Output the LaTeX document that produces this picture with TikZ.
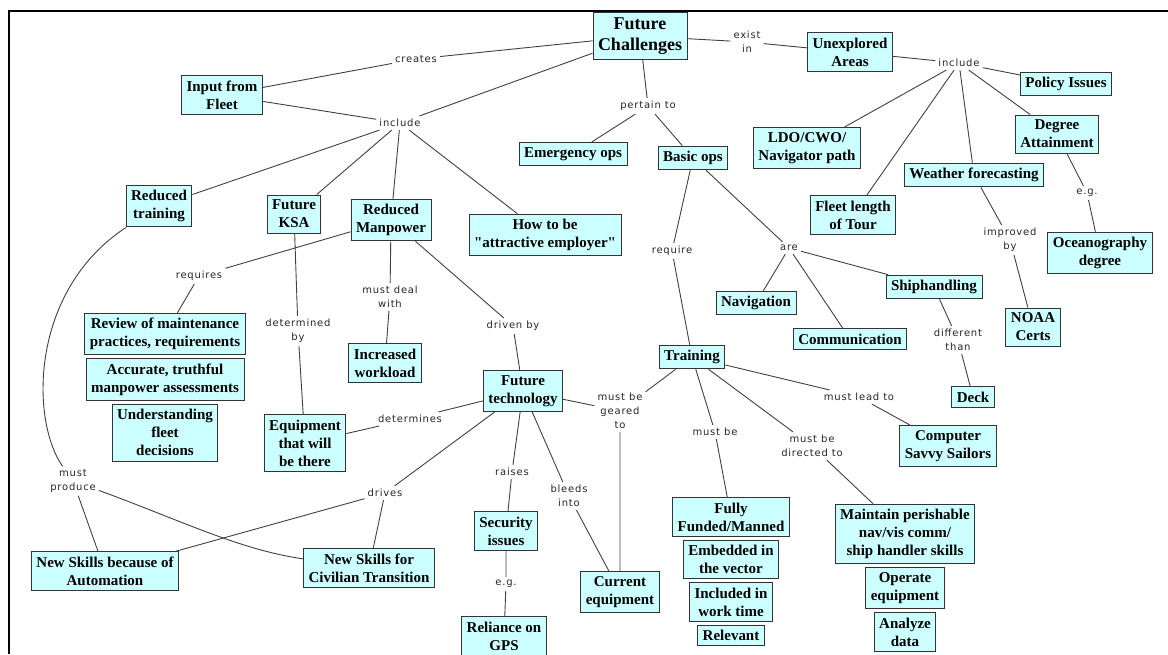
\documentclass[tikz,border=0pt]{standalone}
\usepackage{fontspec}
\setmainfont{Liberation Serif}
\newfontfamily\conceptfont{Liberation Serif}
\newfontfamily\linkfont{DejaVu Sans}[LetterSpace=8]
\usetikzlibrary{positioning}
\definecolor{cmapfill}{RGB}{204,255,255}

\begin{document}
\begin{tikzpicture}[x=1pt, y=-1pt, node distance=3pt,
    concept/.style={draw=black!80, line width=0.9pt, fill=cmapfill, align=center, inner xsep=5pt, inner ysep=5pt, font=\conceptfont\bfseries\fontsize{15}{18}\selectfont},
    link/.style={align=center, inner sep=3pt, text=black!85, font=\linkfont\fontsize{10}{14}\selectfont},
    tie/.style={draw=black!75, line width=0.9pt}]
  \clip (0,0) rectangle (1168,654);
  \draw[line width=2.5pt] (1168,11) -- (9,11) -- (9,654);

  \node[concept, font=\conceptfont\bfseries\fontsize{18}{21}\selectfont] (fc) at (640,36) {Future\\Challenges};
  \node[concept] (fleet)  at (222,95)  {Input from\\Fleet};
  \node[concept] (rtrain) at (159,206) {Reduced\\training};
  \node[concept] (ksa)    at (294,214) {Future\\KSA};
  \node[concept] (rman)   at (391,220) {Reduced\\Manpower};
  \node[concept] (attract) at (545,235) {How to be\\"attractive employer"};
  \node[concept] (emerg)  at (573,154) {Emergency ops};
  \node[concept] (basic)  at (693,158) {Basic ops};
  \node[concept] (unexpl) at (850,52)  {Unexplored\\Areas};
  \node[concept] (policy) at (1066,84) {Policy Issues};
  \node[concept] (ldo)    at (807,148) {LDO/CWO/\\Navigator path};
  \node[concept] (degree) at (1057,134) {Degree\\Attainment};
  \node[concept] (weather) at (974,175) {Weather forecasting};
  \node[concept] (tour)   at (853,215) {Fleet length\\of Tour};
  \node[concept] (ocean)  at (1100,253) {Oceanography\\degree};
  \node[concept] (noaa)   at (1033,327) {NOAA\\Certs};
  \node[concept] (ship)   at (934,287) {Shiphandling};
  \node[concept] (navi)   at (756,303) {Navigation};
  \node[concept] (comm)   at (850,339) {Communication};
  \node[concept] (deck)   at (973,397) {Deck};
  \node[concept] (savvy)  at (948,446) {Computer\\Savvy Sailors};
  \node[concept] (maint)  at (905,534) {Maintain perishable\\nav/vis comm/\\ship handler skills};
  \node[concept] (operate) [below=of maint] {Operate\\equipment};
  \node[concept] (analyze) [below=of operate] {Analyze\\data};
  \node[concept] (train)  at (692,357) {Training};
  \node[concept] (funded) at (731,517) {Fully\\Funded/Manned};
  \node[concept] (embed)  [below=of funded] {Embedded in\\the vector};
  \node[concept] (worktime) [below=of embed] {Included in\\work time};
  \node[concept] (relevant) [below=of worktime] {Relevant};
  \node[concept] (curreq) at (620,592) {Current\\equipment};
  \node[concept] (secur)  at (506,531) {Security\\issues};
  \node[concept] (gps)    at (504,636) {Reliance on\\GPS};
  \node[concept] (ftech)  at (523,391) {Future\\technology};
  \node[concept] (workload) at (385,363) {Increased\\workload};
  \node[concept] (review) at (165,334) {Review of maintenance\\practices, requirements};
  \node[concept] (accur)  [below=of review] {Accurate, truthful\\manpower assessments};
  \node[concept] (underst) [below=of accur] {Understanding\\fleet\\decisions};
  \node[concept] (equip)  at (305,443) {Equipment\\that will\\be there};
  \node[concept] (autom)  at (105,571) {New Skills because of\\Automation};
  \node[concept] (civil)  at (369,568) {New Skills for\\Civilian Transition};

  \node[link] (creates) at (416,59)  {creates};
  \node[link] (inclA)   at (400,123) {include};
  \node[link] (pert)    at (648,106) {pertain to};
  \node[link] (exist)   at (747,42)  {exist\\in};
  \node[link] (inclB)   at (959,63)  {include};
  \node[link] (eg1)     at (1087,193) {e.g.};
  \node[link] (impr)    at (1010,240) {improved\\by};
  \node[link] (req)     at (672,251) {require};
  \node[link] (are)     at (789,248) {are};
  \node[link] (diff)    at (958,340) {different\\than};
  \node[link] (lead)    at (859,397) {must lead to};
  \node[link] (direct)  at (812,446) {must be\\directed to};
  \node[link] (mustbe)  at (715,432) {must be};
  \node[link] (geared)  at (620,411) {must be\\geared\\to};
  \node[link] (bleeds)  at (569,496) {bleeds\\into};
  \node[link] (raises)  at (512,472) {raises};
  \node[link] (eg2)     at (506,584) {e.g.};
  \node[link] (driven)  at (513,326) {driven by};
  \node[link] (deal)    at (390,297) {must deal\\with};
  \node[link] (requires) at (199,276) {requires};
  \node[link] (detby)   at (298,331) {determined\\by};
  \node[link] (determ)  at (410,419) {determines};
  \node[link] (mprod)   at (73,481)  {must\\produce};
  \node[link] (drives)  at (385,493) {drives};

  \draw[tie] (fc) -- (creates) -- (fleet);
  \draw[tie] (fc) -- (inclA);
  \draw[tie] (fleet) -- (inclA);
  \draw[tie] (inclA) -- (rtrain);
  \draw[tie] (inclA) -- (ksa);
  \draw[tie] (inclA) -- (rman);
  \draw[tie] (inclA) -- (attract);
  \draw[tie] (fc) -- (pert) -- (emerg);
  \draw[tie] (pert) -- (basic);
  \draw[tie] (fc) -- (exist) -- (unexpl) -- (inclB) -- (policy);
  \draw[tie] (inclB) -- (ldo);
  \draw[tie] (inclB) -- (tour);
  \draw[tie] (inclB) -- (weather) -- (impr) -- (noaa);
  \draw[tie] (inclB) -- (degree) -- (eg1) -- (ocean);
  \draw[tie] (basic) -- (req) -- (train);
  \draw[tie] (basic) -- (are) -- (navi);
  \draw[tie] (are) -- (comm);
  \draw[tie] (are) -- (ship) -- (diff) -- (deck);
  \draw[tie] (train) -- (lead) -- (savvy);
  \draw[tie] (train) -- (direct) -- (maint);
  \draw[tie] (train) -- (mustbe) -- (funded);
  \draw[tie] (train) -- (geared) -- (curreq);
  \draw[tie] (ftech) -- (geared);
  \draw[tie] (rman) -- (requires) -- (review);
  \draw[tie] (rman) -- (deal) -- (workload);
  \draw[tie] (rman) -- (driven) -- (ftech);
  \draw[tie] (ksa) -- (detby) -- (equip);
  \draw[tie] (ftech) -- (determ) -- (equip);
  \draw[tie] (ftech) -- (drives) -- (autom);
  \draw[tie] (drives) -- (civil);
  \draw[tie] (ftech) -- (raises) -- (secur) -- (eg2) -- (gps);
  \draw[tie] (ftech) -- (bleeds) -- (curreq);
  \draw[tie] (rtrain) .. controls (30,290) and (30,420) .. (mprod);
  \draw[tie] (mprod) -- (autom);
  \draw[tie] (mprod) .. controls (180,520) and (240,550) .. (civil);
\end{tikzpicture}
\end{document}
